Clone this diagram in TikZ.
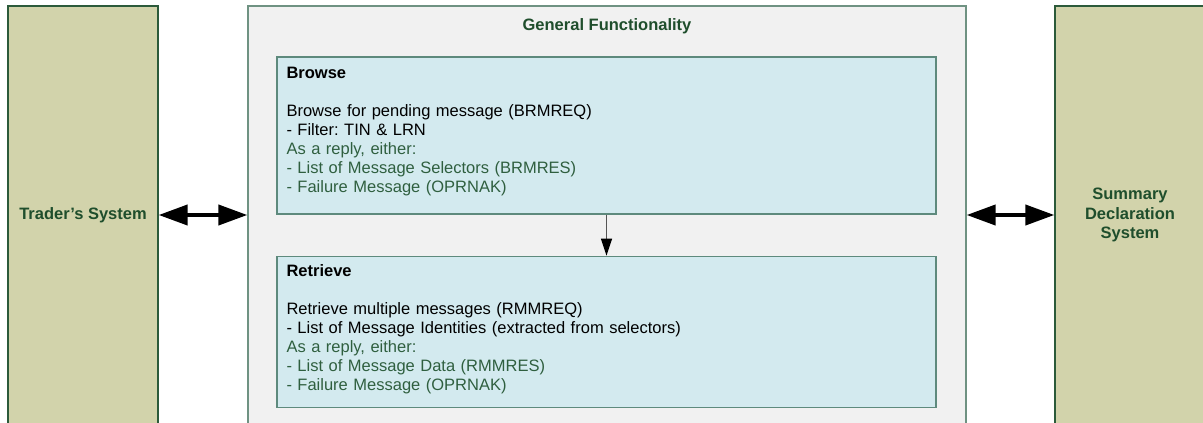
\documentclass[tikz,border=0pt]{standalone}
\usepackage{fontspec}
\setmainfont{Liberation Sans}
\usetikzlibrary{positioning,arrows.meta}

\definecolor{sysfill}{HTML}{D2D3AB}
\definecolor{sysline}{HTML}{2C5A3A}
\definecolor{systext}{HTML}{1F4E2C}
\definecolor{groupfill}{HTML}{F1F1F1}
\definecolor{groupline}{HTML}{6F9282}
\definecolor{funcfill}{HTML}{D3EAEF}
\definecolor{funcline}{HTML}{5E8A7D}
\definecolor{replygreen}{HTML}{2F5F3F}
\definecolor{flowgray}{HTML}{555555}

\begin{document}
\begin{tikzpicture}[x=1pt,y=-1pt,
  font=\fontsize{16.5}{19}\selectfont\frenchspacing,
  system/.style={draw=sysline,fill=sysfill,line width=1.3pt,minimum width=150pt,
    minimum height=418pt,inner sep=0pt,align=center,text=systext,
    font=\fontsize{16.5}{19.5}\selectfont\bfseries},
  group/.style={draw=groupline,fill=groupfill,line width=1.3pt,minimum width=718pt,
    minimum height=418pt,inner sep=0pt},
  func/.style={draw=funcline,fill=funcfill,line width=1.4pt,minimum width=659pt,inner sep=0pt},
  functext/.style={anchor=north west,inner sep=0pt,align=left,text width=640pt},
  both/.style={{Triangle[length=29pt,width=20pt]}-{Triangle[length=29pt,width=20pt]},line width=4pt},
  flow/.style={-{Triangle[length=17pt,width=11pt,color=black]},draw=flowgray,line width=1.3pt}]

  \path[use as bounding box,clip] (0,0) rectangle (1203,423);

  % the two outer systems
  \node[system] (trader) at (83,215) {Trader's System};
  \node[system] (sds) at (1130,215) {Summary\\Declaration\\System};

  % general functionality
  \node[group] (general) at (607,215) {};
  \node[below=12.5pt of general.north,inner sep=0pt,text=systext,font=\fontsize{16.5}{19}\selectfont\bfseries] (gentitle) {General Functionality};

  \node[func,minimum height=157pt] (browse) at (606.5,135.5) {};
  \node[func,minimum height=151pt,below=41pt of browse] (retrieve) {};

  \node[functext] (browsetxt) at ([shift={(10,10.5)}]browse.north west) {%
    \textbf{Browse}\\[19pt]
    Browse for pending message (BRMREQ)\\
    - Filter: TIN \& LRN\\
    \textcolor{replygreen}{As a reply, either:}\\
    \textcolor{replygreen}{- List of Message Selectors (BRMRES)}\\
    \textcolor{replygreen}{- Failure Message (OPRNAK)}};
  \node[functext] (retrievetxt) at ([shift={(10,9)}]retrieve.north west) {%
    \textbf{Retrieve}\\[19pt]
    Retrieve multiple messages (RMMREQ)\\
    - List of Message Identities (extracted from selectors)\\
    \textcolor{replygreen}{As a reply, either:}\\
    \textcolor{replygreen}{- List of Message Data (RMMRES)}\\
    \textcolor{replygreen}{- Failure Message (OPRNAK)}};

  \draw[both] (trader) -- (general);
  \draw[both] (general) -- (sds);
  \draw[flow] (browse) -- (retrieve);
\end{tikzpicture}
\end{document}
